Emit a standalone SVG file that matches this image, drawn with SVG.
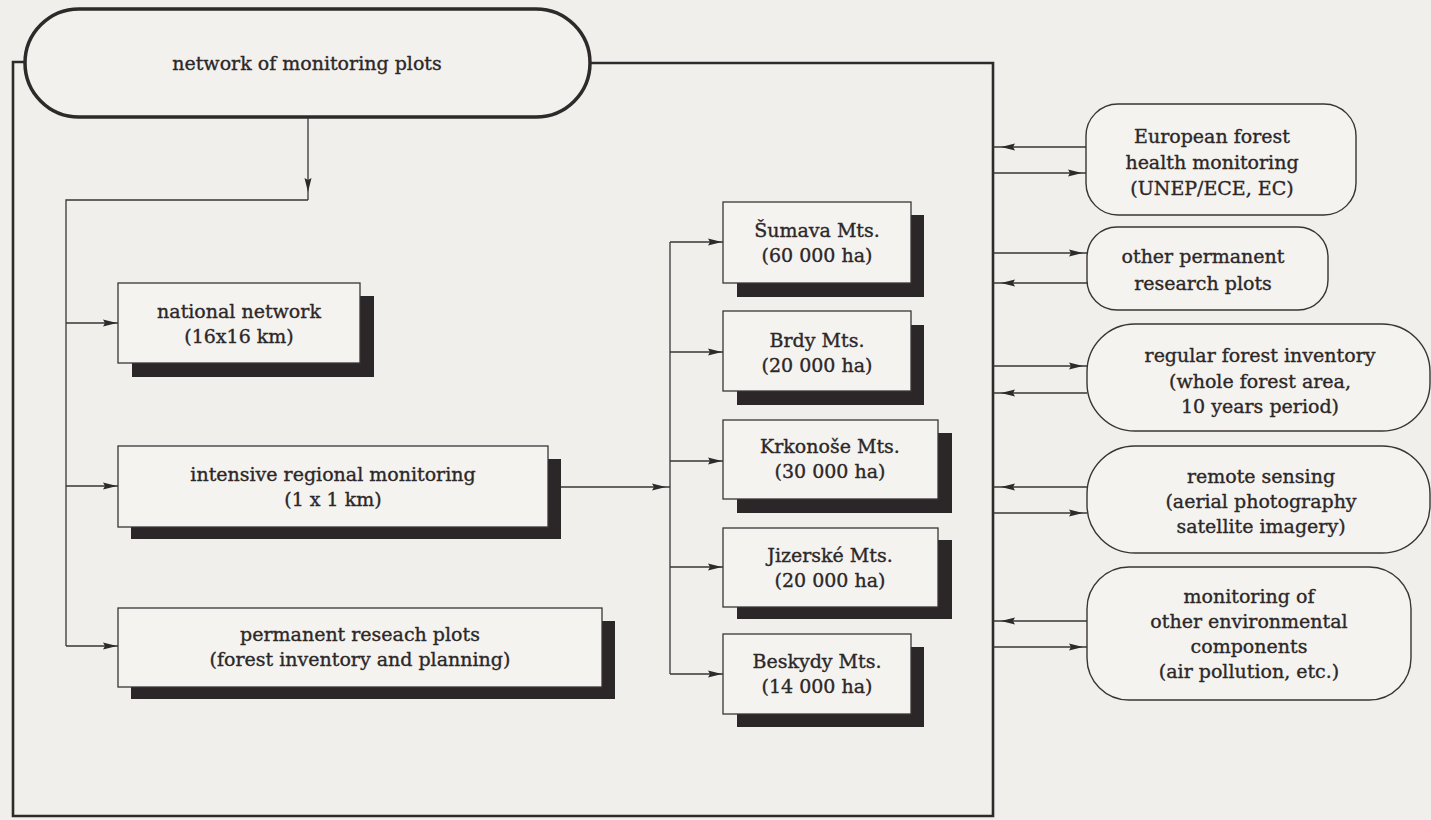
<svg xmlns="http://www.w3.org/2000/svg" width="1431" height="820" viewBox="0 0 1431 820">
<defs>
<style>
.t{font-family:"DejaVu Serif","Liberation Serif",serif;font-size:19px;fill:#2c2728;stroke:#2c2728;stroke-width:0.35;text-anchor:middle}
.box{fill:#f5f3ef;stroke:#3a3436;stroke-width:1.3}
.sh{fill:#2b2627}
.rb{fill:#f5f3ef;stroke:#3a3436;stroke-width:1.4}
.c{fill:none;stroke:#3a3436;stroke-width:1.3}
.frame{fill:none;stroke:#2e292a;stroke-width:2.6}
</style>
<marker id="ah" markerUnits="userSpaceOnUse" markerWidth="16" markerHeight="8" refX="15" refY="4" orient="auto"><path d="M0,0.5 L14,4 L0,7.5 L2,4 Z" fill="#2e292a"/></marker>
<marker id="ahMid" markerUnits="userSpaceOnUse" markerWidth="22" markerHeight="8" refX="18" refY="4" orient="auto"><path d="M0,0.5 L14,4 L0,7.5 L2,4 Z" fill="#2e292a"/></marker>
<marker id="ahFar" markerUnits="userSpaceOnUse" markerWidth="24" markerHeight="8" refX="22" refY="4" orient="auto"><path d="M0,0.5 L14,4 L0,7.5 L2,4 Z" fill="#2e292a"/></marker>
</defs>
<rect x="0" y="0" width="1431" height="820" fill="#f1efeb"/>

<g id="connectors">
<path class="frame" d="M25,62 H13 V816 H993 V63 H590"/>
<path class="c" d="M308,117 V200" marker-end="url(#ahFar)"/>
<path class="c" d="M308,200 H66 V646"/>
<path class="c" d="M66,323 H118" marker-end="url(#ah)"/>
<path class="c" d="M66,486 H118" marker-end="url(#ah)"/>
<path class="c" d="M66,646 H118" marker-end="url(#ah)"/>
<path class="c" d="M561,487 H670" marker-end="url(#ahMid)"/>
<path class="c" d="M670,242 V674"/>
<path class="c" d="M670,242 H723" marker-end="url(#ah)"/>
<path class="c" d="M670,352 H723" marker-end="url(#ah)"/>
<path class="c" d="M670,461 H723" marker-end="url(#ah)"/>
<path class="c" d="M670,567 H723" marker-end="url(#ah)"/>
<path class="c" d="M670,674 H723" marker-end="url(#ah)"/>
<path class="c" d="M1086,147 H993" marker-end="url(#ahFar)"/>
<path class="c" d="M993,173 H1086" marker-end="url(#ahMid)"/>
<path class="c" d="M993,253 H1087" marker-end="url(#ahMid)"/>
<path class="c" d="M1087,283 H993" marker-end="url(#ahFar)"/>
<path class="c" d="M993,366 H1087" marker-end="url(#ahMid)"/>
<path class="c" d="M1087,393 H993" marker-end="url(#ahFar)"/>
<path class="c" d="M1087,487 H993" marker-end="url(#ahFar)"/>
<path class="c" d="M993,513 H1087" marker-end="url(#ahMid)"/>
<path class="c" d="M1087,621 H993" marker-end="url(#ahFar)"/>
<path class="c" d="M993,647 H1087" marker-end="url(#ahMid)"/>
</g>

<g id="root">
<rect x="25" y="9" width="565" height="108" rx="54" ry="54" fill="#f3f1ed" stroke="#2e292a" stroke-width="3.5"/>
<text class="t" x="307" y="70">network of monitoring plots</text>
</g>

<g id="national">
<rect class="sh" x="132" y="296" width="242" height="81"/>
<rect class="box" x="118" y="283" width="242" height="80"/>
<text class="t" x="239" y="318">national network</text>
<text class="t" x="239" y="343">(16x16 km)</text>
</g>

<g id="intensive">
<rect class="sh" x="131" y="459" width="430" height="80"/>
<rect class="box" x="118" y="446" width="430" height="81"/>
<text class="t" x="333" y="481">intensive regional monitoring</text>
<text class="t" x="333" y="506">(1 x 1 km)</text>
</g>

<g id="permanent">
<rect class="sh" x="131" y="621" width="484" height="78"/>
<rect class="box" x="118" y="608" width="484" height="79"/>
<text class="t" x="360" y="641">permanent reseach plots</text>
<text class="t" x="360" y="666">(forest inventory and planning)</text>
</g>

<g id="sumava">
<rect class="sh" x="737" y="215" width="187" height="82"/>
<rect class="box" x="723" y="202" width="188" height="81"/>
<text class="t" x="817" y="237">Šumava Mts.</text>
<text class="t" x="817" y="262">(60 000 ha)</text>
</g>

<g id="brdy">
<rect class="sh" x="737" y="325" width="187" height="80"/>
<rect class="box" x="723" y="311" width="188" height="80"/>
<text class="t" x="817" y="347">Brdy Mts.</text>
<text class="t" x="817" y="372">(20 000 ha)</text>
</g>

<g id="krkonose">
<rect class="sh" x="737" y="433" width="215" height="80"/>
<rect class="box" x="723" y="420" width="215" height="79"/>
<text class="t" x="830" y="453">Krkonoše Mts.</text>
<text class="t" x="830" y="478">(30 000 ha)</text>
</g>

<g id="jizerske">
<rect class="sh" x="737" y="540" width="215" height="79"/>
<rect class="box" x="723" y="528" width="215" height="79"/>
<text class="t" x="830" y="562">Jizerské Mts.</text>
<text class="t" x="830" y="587">(20 000 ha)</text>
</g>

<g id="beskydy">
<rect class="sh" x="737" y="647" width="187" height="80"/>
<rect class="box" x="723" y="634" width="188" height="80"/>
<text class="t" x="817" y="668">Beskydy Mts.</text>
<text class="t" x="817" y="693">(14 000 ha)</text>
</g>

<g id="european">
<rect class="rb" x="1086" y="104" width="270" height="111" rx="32" ry="32" stroke-width="2.6"/>
<text class="t" x="1212" y="143">European forest</text>
<text class="t" x="1212" y="169">health monitoring</text>
<text class="t" x="1212" y="195">(UNEP/ECE, EC)</text>
</g>

<g id="otherplots">
<rect class="rb" x="1087" y="227" width="241" height="83" rx="30" ry="30"/>
<text class="t" x="1203" y="263">other permanent</text>
<text class="t" x="1203" y="290">research plots</text>
</g>

<g id="inventory">
<rect class="rb" x="1087" y="324" width="343" height="107" rx="48" ry="48"/>
<text class="t" x="1260" y="362">regular forest inventory</text>
<text class="t" x="1260" y="388">(whole forest area,</text>
<text class="t" x="1260" y="413">10 years period)</text>
</g>

<g id="remote">
<rect class="rb" x="1087" y="446" width="343" height="107" rx="48" ry="48"/>
<text class="t" x="1261" y="483">remote sensing</text>
<text class="t" x="1261" y="508">(aerial photography</text>
<text class="t" x="1261" y="533">satellite imagery)</text>
</g>

<g id="environment">
<rect class="rb" x="1087" y="567" width="324" height="133" rx="42" ry="42"/>
<text class="t" x="1249" y="603">monitoring of</text>
<text class="t" x="1249" y="628">other environmental</text>
<text class="t" x="1249" y="653">components</text>
<text class="t" x="1249" y="678">(air pollution, etc.)</text>
</g>
</svg>
